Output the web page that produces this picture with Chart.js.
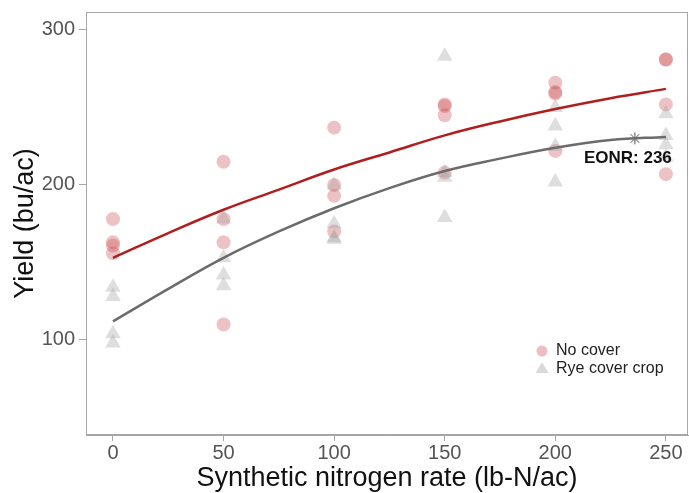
<!DOCTYPE html>
<html>
<head>
<meta charset="utf-8">
<title>Yield vs nitrogen rate</title>
<script src="https://cdn.jsdelivr.net/npm/chart.js"></script>
<style>
  html, body { margin: 0; padding: 0; background: #fff; }
  #wrap { width: 689px; height: 493px; }
</style>
</head>
<body>
<div id="wrap"><canvas id="yieldChart" width="689" height="493"></canvas></div>
<script>
// observed plots: nitrogen rate (lb-N/ac) and yield (bu/ac)
const noCoverRate  = [0, 0, 0, 0, 50, 50, 50, 50, 100, 100, 100, 100, 150, 150, 150, 150, 200, 200, 200, 200, 250, 250, 250, 250];
const noCoverYield = [178, 163, 161, 156, 215, 178, 163, 110, 237, 200, 193, 170, 252, 251, 245, 208, 266, 260, 259, 222, 281, 281, 252, 207];
const ryeRate  = [0, 0, 0, 0, 50, 50, 50, 50, 100, 100, 100, 100, 150, 150, 150, 150, 200, 200, 200, 200, 250, 250, 250, 250];
const ryeYield = [134, 128, 104, 98, 178, 153, 142, 135, 200, 175, 166, 165, 283, 208, 205, 179, 250, 238, 225, 202, 246, 232, 226, 218];

// fitted response curves
const curveRate   = [0, 25, 50, 75, 100, 125, 150, 175, 200, 225, 250];
const noCoverFit  = [153, 169, 184, 197, 210, 221, 232, 241, 249, 256, 262];
const ryeFit      = [112, 133, 153, 170, 185, 198, 209, 217, 224, 229, 231];

const eonrRate = 236;
const eonrYield = 230;

const xTicks = [0, 50, 100, 150, 200, 250];
const yTicks = [100, 200, 300];

const pairs = (xs, ys) => xs.map((x, i) => ({ x: x, y: ys[i] }));

const FAMILY = '"Liberation Sans", Arial, sans-serif';

// panel border + legend + EONR label
const extras = {
  id: 'extras',
  afterDraw(chart) {
    const ctx = chart.ctx;
    const a = chart.chartArea;
    ctx.save();
    ctx.strokeStyle = '#a6a6a6';
    ctx.lineWidth = 1;
    ctx.strokeRect(a.left + 0.5, a.top + 0.5, a.right - a.left - 1, a.bottom - a.top - 1);

    // legend
    ctx.font = '16px ' + FAMILY;
    ctx.textBaseline = 'middle';
    ctx.fillStyle = 'rgba(200,70,75,0.35)';
    ctx.beginPath();
    ctx.arc(542, 351, 5.5, 0, Math.PI * 2);
    ctx.fill();
    ctx.fillStyle = 'rgba(160,160,160,0.4)';
    ctx.beginPath();
    ctx.moveTo(542, 362); ctx.lineTo(548.5, 373); ctx.lineTo(535.5, 373);
    ctx.closePath();
    ctx.fill();
    ctx.fillStyle = '#222';
    ctx.fillText('No cover', 556, 351);
    ctx.fillText('Rye cover crop', 556, 369);

    // EONR label
    const px = chart.scales.x.getPixelForValue(eonrRate);
    const py = chart.scales.y.getPixelForValue(eonrYield);
    ctx.font = 'bold 17px ' + FAMILY;
    ctx.textAlign = 'left';
    ctx.fillStyle = '#111';
    ctx.fillText('EONR: ' + eonrRate, px - 51, py + 20);
    ctx.restore();
  }
};

const tickFont = { family: FAMILY, size: 20 };
const titleFont = { family: FAMILY, size: 27, lineHeight: 1.0 };

new Chart(document.getElementById('yieldChart').getContext('2d'), {
  type: 'scatter',
  data: {
    datasets: [
      {
        label: 'No cover fit',
        data: pairs(curveRate, noCoverFit),
        showLine: true,
        borderColor: '#b01e1e',
        borderWidth: 2.5,
        pointRadius: 0,
        tension: 0.4,
        order: 0
      },
      {
        label: 'Rye fit',
        data: pairs(curveRate, ryeFit),
        showLine: true,
        borderColor: '#6b6b6b',
        borderWidth: 2.5,
        pointRadius: 0,
        tension: 0.4,
        order: 0
      },
      {
        label: 'EONR',
        data: [{ x: eonrRate, y: eonrYield }],
        pointStyle: 'star',
        pointRadius: 6,
        borderColor: '#555',
        borderWidth: 1,
        order: 0
      },
      {
        label: 'No cover',
        data: pairs(noCoverRate, noCoverYield),
        pointStyle: 'circle',
        pointRadius: 7,
        backgroundColor: 'rgba(200,70,75,0.33)',
        borderWidth: 0,
        order: 2
      },
      {
        label: 'Rye cover crop',
        data: pairs(ryeRate, ryeYield),
        pointStyle: 'triangle',
        pointRadius: 9,
        backgroundColor: 'rgba(160,160,160,0.35)',
        borderWidth: 0,
        order: 1
      }
    ]
  },
  options: {
    responsive: false,
    animation: false,
    layout: { autoPadding: false, padding: { top: 12, right: 1, left: 0, bottom: 0 } },
    plugins: {
      legend: { display: false },
      tooltip: { enabled: false }
    },
    scales: {
      x: {
        type: 'linear',
        min: -12.2,
        max: 260,
        afterBuildTicks: s => { s.ticks = xTicks.map(v => ({ value: v })); },
        afterFit: s => { s.height = 58; s.paddingLeft = 0; s.paddingRight = 0; },
        ticks: { color: '#555', font: tickFont, padding: 0, maxRotation: 0 },
        grid: { drawOnChartArea: false, tickLength: 6, color: '#a6a6a6' },
        border: { display: true, color: '#a6a6a6' },
        title: { display: true, text: 'Synthetic nitrogen rate (lb-N/ac)', color: '#111', font: titleFont, padding: { top: 4, bottom: 1 } }
      },
      y: {
        type: 'linear',
        min: 38.7,
        max: 311.6,
        afterBuildTicks: s => { s.ticks = yTicks.map(v => ({ value: v })); },
        afterFit: s => { s.width = 86; s.paddingTop = 0; s.paddingBottom = 0; },
        ticks: { color: '#555', font: tickFont, padding: 4 },
        grid: { drawOnChartArea: false, tickLength: 7, color: '#a6a6a6' },
        border: { display: true, color: '#a6a6a6' },
        title: { display: true, text: 'Yield (bu/ac)', color: '#111', font: titleFont, padding: { top: 12, bottom: 0 } }
      }
    }
  },
  plugins: [extras]
});
</script>
</body>
</html>
